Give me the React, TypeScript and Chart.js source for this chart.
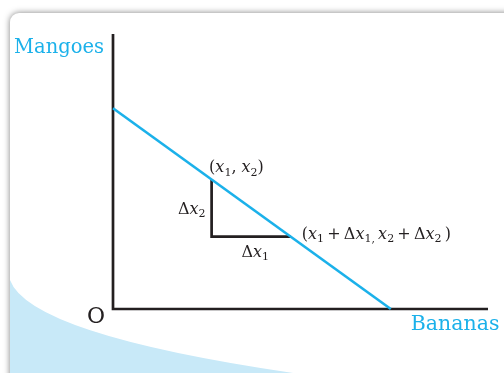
import React, { useEffect, useRef } from "react";
import { Chart, registerables } from "chart.js";

Chart.register(...registerables);

// ---- data (diagram units) ----
const AXIS_X = [0, 0, 13.5];
const AXIS_Y = [10, 0, 0];
const BUDGET_BANANAS = [0, 10];
const BUDGET_MANGOES = [7.3, 0];
const STEP_X = [3.55, 3.55, 6.4];
const STEP_Y = [4.71, 2.63, 2.63];
const AXIS_TITLES = ["Mangoes", "Bananas", "O"];

const BLUE = "#1bb1ea";
const DARK = "#231f20";
const FAM = '"DejaVu Serif", "Liberation Serif", serif';

type Seg = { t: string; it?: boolean; sub?: boolean };

function segFont(s: Seg, size: number) {
  return `${s.it ? "italic " : ""}${s.sub ? Math.round(size * 0.66) : size}px ${FAM}`;
}

function richWidth(ctx: CanvasRenderingContext2D, segs: Seg[], size: number) {
  let w = 0;
  for (const s of segs) {
    ctx.font = segFont(s, size);
    w += ctx.measureText(s.t).width;
  }
  return w;
}

function drawRich(
  ctx: CanvasRenderingContext2D,
  segs: Seg[],
  x: number,
  y: number,
  size: number,
  align: "left" | "right" | "center"
) {
  const w = richWidth(ctx, segs, size);
  let cx = align === "left" ? x : align === "right" ? x - w : x - w / 2;
  ctx.textAlign = "left";
  ctx.textBaseline = "alphabetic";
  for (const s of segs) {
    ctx.font = segFont(s, size);
    ctx.fillText(s.t, cx, s.sub ? y + size * 0.2 : y);
    cx += ctx.measureText(s.t).width;
  }
}

const TS = "\u2009";
const P1: Seg[] = [
  { t: "(" }, { t: "x", it: true }, { t: "1", sub: true }, { t: ", " },
  { t: "x", it: true }, { t: "2", sub: true }, { t: ")" },
];
const DX1: Seg[] = [{ t: "Δ" }, { t: "x", it: true }, { t: "1", sub: true }];
const DX2: Seg[] = [{ t: "Δ" }, { t: "x", it: true }, { t: "2", sub: true }];
const P2: Seg[] = [
  { t: "(" }, { t: "x", it: true }, { t: "1", sub: true }, { t: `${TS}+${TS}Δ` },
  { t: "x", it: true }, { t: "1", sub: true }, { t: ",", sub: true }, { t: TS },
  { t: "x", it: true }, { t: "2", sub: true }, { t: `${TS}+${TS}Δ` },
  { t: "x", it: true }, { t: "2", sub: true }, { t: `${TS})` },
];

const cardPlugin = {
  id: "card",
  beforeDraw(chart: any) {
    const ctx: CanvasRenderingContext2D = chart.ctx;
    const W = chart.width;
    const H = chart.height;
    ctx.save();
    ctx.fillStyle = "#ffffff";
    ctx.fillRect(0, 0, W, H);
    ctx.shadowColor = "rgba(0,0,0,0.5)";
    ctx.shadowBlur = 6;
    ctx.beginPath();
    (ctx as any).roundRect(10, 13, W + 40, H + 40, 9);
    ctx.fillStyle = "#ffffff";
    ctx.fill();
    ctx.restore();

    ctx.save();
    ctx.beginPath();
    (ctx as any).roundRect(10, 13, W + 40, H + 40, 9);
    ctx.clip();
    ctx.beginPath();
    ctx.moveTo(10, 280);
    ctx.quadraticCurveTo(30, 335, 300, 374);
    ctx.lineTo(0, H + 2);
    ctx.lineTo(0, 280);
    ctx.closePath();
    ctx.fillStyle = "#c8e9f8";
    ctx.fill();
    ctx.restore();
  },
};

const labelPlugin = {
  id: "labels",
  afterDatasetsDraw(chart: any) {
    const ctx: CanvasRenderingContext2D = chart.ctx;
    const xs = chart.scales.x;
    const ys = chart.scales.y;
    const ox = xs.getPixelForValue(0);
    const oy = ys.getPixelForValue(0);
    const top = ys.getPixelForValue(AXIS_Y[0]);
    ctx.save();
    ctx.fillStyle = BLUE;
    ctx.font = `19.5px ${FAM}`;
    ctx.textBaseline = "alphabetic";
    ctx.textAlign = "right";
    ctx.fillText(AXIS_TITLES[0], ox - 9, top + 19);
    ctx.textAlign = "left";
    ctx.font = `20.5px ${FAM}`;
    ctx.fillText(AXIS_TITLES[1], xs.getPixelForValue(BUDGET_BANANAS[1]) + 20, oy + 21);
    ctx.fillStyle = DARK;
    ctx.font = `22px ${FAM}`;
    ctx.textAlign = "right";
    ctx.fillText(AXIS_TITLES[2], ox - 8, oy + 14);

    const ax = xs.getPixelForValue(STEP_X[0]);
    const ay = ys.getPixelForValue(STEP_Y[0]);
    const bx = xs.getPixelForValue(STEP_X[2]);
    const by = ys.getPixelForValue(STEP_Y[2]);
    ctx.fillStyle = DARK;
    drawRich(ctx, P1, ax - 2.5, ay - 7, 16, "left");
    drawRich(ctx, DX2, ax - 6, (ay + by) / 2 + 6, 16, "right");
    drawRich(ctx, DX1, (ax + bx) / 2 + 4, by + 20, 16, "center");
    drawRich(ctx, P2, bx + 11, by + 2, 16, "left");
    ctx.restore();
  },
};

export default function App() {
  const ref = useRef<HTMLCanvasElement | null>(null);
  useEffect(() => {
    if (!ref.current) return;
    const pts = (xs: number[], ys: number[]) => xs.map((x, i) => ({ x, y: ys[i] }));
    const chart = new Chart(ref.current, {
      type: "scatter",
      data: {
        datasets: [
          {
            label: "Budget line",
            data: pts(BUDGET_BANANAS, BUDGET_MANGOES),
            showLine: true,
            borderColor: BLUE,
            borderWidth: 2.6,
            pointRadius: 0,
            clip: false,
          },
          {
            label: "Step",
            data: pts(STEP_X, STEP_Y),
            showLine: true,
            borderColor: DARK,
            borderWidth: 2.7,
            pointRadius: 0,
            borderJoinStyle: "miter",
            clip: false,
          },
          {
            label: "Axes",
            data: pts(AXIS_X, AXIS_Y),
            showLine: true,
            borderColor: DARK,
            borderWidth: 2.7,
            pointRadius: 0,
            borderJoinStyle: "miter",
            clip: false,
          },
        ],
      },
      options: {
        animation: false,
        responsive: false,
        layout: { padding: { left: 113, right: 16, top: 34, bottom: 64 } },
        plugins: { legend: { display: false }, tooltip: { enabled: false } },
        events: [],
        scales: {
          x: { type: "linear", min: 0, max: AXIS_X[2], display: false },
          y: { type: "linear", min: 0, max: AXIS_Y[0], display: false },
        },
      },
      plugins: [cardPlugin, labelPlugin],
    } as any);
    return () => chart.destroy();
  }, []);
  return (
    <div style={{ position: "absolute", left: 0, top: 0, width: 504, height: 373 }}>
      <canvas ref={ref} width={504} height={373} style={{ display: "block" }} />
    </div>
  );
}
